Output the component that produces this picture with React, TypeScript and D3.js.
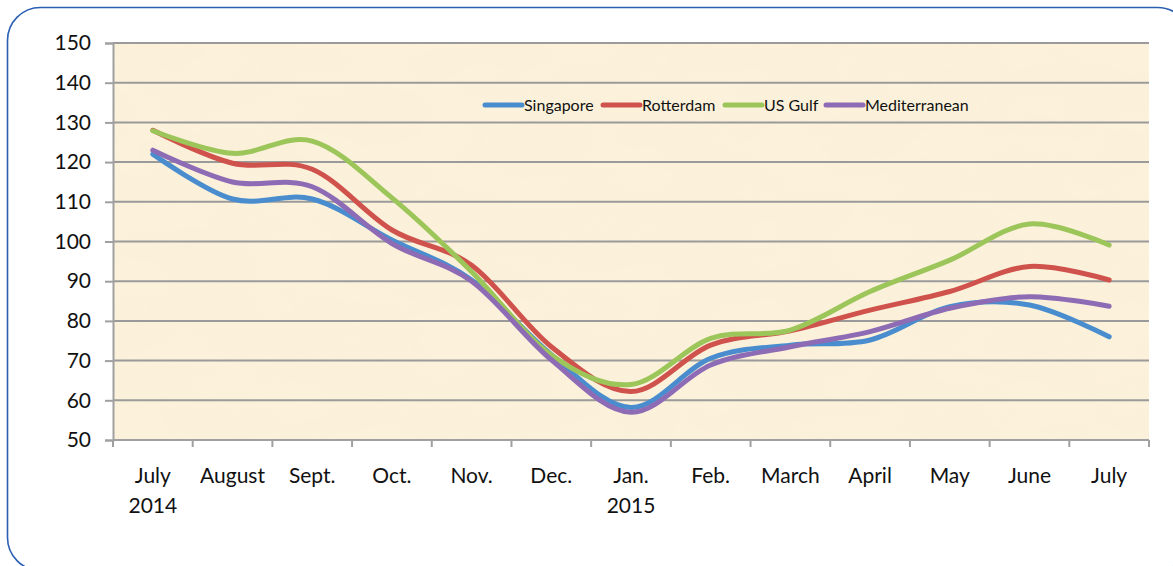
import React, { useEffect, useRef } from 'react';
import * as d3 from 'd3';

// months on the x axis (second line shown under the label where present)
const months = ['July', 'August', 'Sept.', 'Oct.', 'Nov.', 'Dec.', 'Jan.', 'Feb.', 'March', 'April', 'May', 'June', 'July'];
const yearLabels = ['2014', '', '', '', '', '', '2015', '', '', '', '', '', ''];

const singapore = [122, 110.7, 110.7, 100.4, 90.3, 71.5, 58.2, 70.6, 73.9, 75.2, 83.6, 84, 76];
const rotterdam = [128, 119.7, 118.2, 102.9, 94, 73.5, 62.2, 73.9, 77.5, 82.7, 87.4, 93.7, 90.3];
const usGulf = [127.9, 122.2, 125.3, 111, 92.4, 71.4, 64, 75.6, 77.7, 87.4, 95.3, 104.4, 99.1];
const mediterranean = [123, 115, 113.8, 99.5, 90, 70.2, 57, 68.9, 73.5, 77.3, 83.2, 86.1, 83.7];

const yTicks = [50, 60, 70, 80, 90, 100, 110, 120, 130, 140, 150];

const seriesNames = ['Singapore', 'Rotterdam', 'US Gulf', 'Mediterranean'];
const seriesColors = ['#4A8DCF', '#D0524C', '#9CC55A', '#8E6BB5'];

const App = () => {
  const ref = useRef<SVGSVGElement>(null);

  useEffect(() => {
    const svg = d3.select(ref.current);
    svg.selectAll('*').remove();

    const width = 1173;
    const height = 566;
    const margin = { top: 43, right: 24, bottom: 126, left: 113 };
    const font = 'Lato, "Open Sans", sans-serif';

    const series = [singapore, rotterdam, usGulf, mediterranean];

    // frame around the whole chart
    svg.append('rect')
      .attr('x', 7.5).attr('y', 7.5)
      .attr('width', 1183).attr('height', 563)
      .attr('rx', 33).attr('ry', 33)
      .attr('fill', 'white')
      .attr('stroke', '#2B5FB3')
      .attr('stroke-width', 1.6);

    const x = d3.scaleBand<number>()
      .domain(d3.range(months.length))
      .range([margin.left, width - margin.right]);

    const y = d3.scaleLinear()
      .domain([50, 150])
      .range([height - margin.bottom, margin.top]);

    // parchment background with faint texture
    const defs = svg.append('defs');
    const filter = defs.append('filter').attr('id', 'paper')
      .attr('x', 0).attr('y', 0).attr('width', 1).attr('height', 1);
    filter.append('feTurbulence')
      .attr('type', 'fractalNoise')
      .attr('baseFrequency', '0.012 0.03')
      .attr('numOctaves', 3)
      .attr('seed', 4);
    filter.append('feColorMatrix')
      .attr('type', 'matrix')
      .attr('values', '0 0 0 0 0.93  0 0 0 0 0.86  0 0 0 0 0.70  0.45 0 0 0 -0.12');
    filter.append('feComposite').attr('in2', 'SourceGraphic').attr('operator', 'in');

    const px = margin.left;
    const pw = width - margin.right - margin.left;
    const py = margin.top;
    const ph = height - margin.bottom - margin.top;

    svg.append('rect')
      .attr('x', px).attr('y', py).attr('width', pw).attr('height', ph)
      .attr('fill', '#FCF1DA');
    svg.append('rect')
      .attr('x', px).attr('y', py).attr('width', pw).attr('height', ph)
      .attr('fill', '#fff')
      .attr('filter', 'url(#paper)');

    // horizontal gridlines
    svg.append('g')
      .selectAll('line')
      .data(yTicks.slice(1))
      .join('line')
      .attr('x1', px).attr('x2', px + pw)
      .attr('y1', d => y(d)).attr('y2', d => y(d))
      .attr('stroke', '#9A9A9A')
      .attr('stroke-width', 2);

    // y axis
    const yAxis = svg.append('g')
      .attr('transform', `translate(${px},0)`)
      .call(d3.axisLeft(y).tickValues(yTicks).tickSize(8).tickPadding(14));
    yAxis.select('.domain').attr('stroke', '#A0A0A0').attr('stroke-width', 2);
    yAxis.selectAll('.tick line').attr('stroke', '#A0A0A0').attr('stroke-width', 2);
    yAxis.selectAll('.tick text')
      .attr('fill', '#111')
      .style('font-family', font)
      .style('font-size', '21px');

    // x axis: ticks at band edges
    const bottom = y(50);
    const edges = d3.range(months.length + 1).map(i => margin.left + i * x.step());
    svg.append('line')
      .attr('x1', px).attr('x2', px + pw)
      .attr('y1', bottom).attr('y2', bottom)
      .attr('stroke', '#A0A0A0').attr('stroke-width', 2);
    svg.append('g')
      .selectAll('line')
      .data(edges)
      .join('line')
      .attr('x1', d => d).attr('x2', d => d)
      .attr('y1', bottom).attr('y2', bottom + 7)
      .attr('stroke', '#A0A0A0').attr('stroke-width', 2);

    svg.append('g')
      .selectAll('text')
      .data(months)
      .join('text')
      .attr('x', (d, i) => x(i)! + x.bandwidth() / 2)
      .attr('y', 483)
      .attr('text-anchor', 'middle')
      .attr('fill', '#111')
      .style('font-family', font)
      .style('font-size', '21px')
      .text(d => d);
    svg.append('g')
      .selectAll('text')
      .data(yearLabels)
      .join('text')
      .attr('x', (d, i) => x(i)! + x.bandwidth() / 2)
      .attr('y', 513)
      .attr('text-anchor', 'middle')
      .attr('fill', '#111')
      .style('font-family', font)
      .style('font-size', '21px')
      .text(d => d);

    // lines
    const line = d3.line<number>()
      .x((d, i) => x(i)! + x.bandwidth() / 2)
      .y(d => y(d))
      .curve(d3.curveCardinal.tension(0));

    svg.append('g')
      .selectAll('path')
      .data(series)
      .join('path')
      .attr('d', d => line(d))
      .attr('fill', 'none')
      .attr('stroke', (d, i) => seriesColors[i])
      .attr('stroke-width', 5)
      .attr('stroke-linecap', 'round')
      .attr('stroke-linejoin', 'round');

    // legend
    const legendX = [485, 603, 725, 826];
    const legend = svg.append('g')
      .selectAll('g')
      .data(seriesNames)
      .join('g')
      .attr('transform', (d, i) => `translate(${legendX[i]},105)`);
    legend.append('line')
      .attr('x1', 0).attr('x2', 37)
      .attr('stroke', (d, i) => seriesColors[i])
      .attr('stroke-width', 5)
      .attr('stroke-linecap', 'round');
    legend.append('text')
      .attr('x', 39)
      .attr('dy', '0.35em')
      .attr('fill', '#111')
      .style('font-family', font)
      .style('font-size', '16px')
      .text(d => d);
  }, []);

  return (
    <svg
      ref={ref}
      width={1173}
      height={566}
      style={{ position: 'absolute', left: 0, top: 0, overflow: 'hidden', background: 'white' }}
    />
  );
};

export default App;
